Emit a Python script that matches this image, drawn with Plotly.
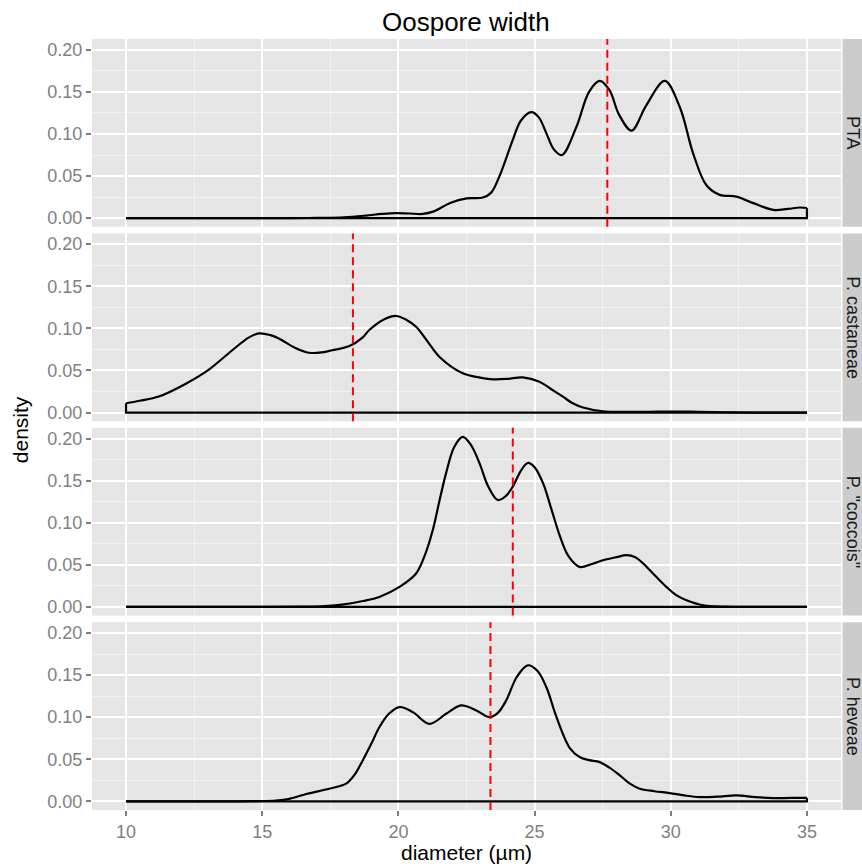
import plotly.graph_objects as go

# ---------------- data ----------------
species = ["PTA", "P. castaneae", "P. \"coccois\"", "P. heveae"]

pta_x = [10, 14, 16, 17, 18, 18.8, 19.4, 19.9, 20.4, 20.9, 21.3, 21.9, 22.5, 23.1, 23.4, 23.7,
         24.2, 24.5, 24.88, 25.15, 25.43, 25.7, 26.0, 26.53, 27.0, 27.39, 27.75, 28.1, 28.56,
         29.1, 29.78, 30.33, 30.82, 31.31, 31.8, 32.41, 33.03, 33.76, 34.3, 34.74, 35]
pta_d = [0, 0, 0, 0.0003, 0.001, 0.003, 0.005, 0.006, 0.0055, 0.005, 0.008, 0.018, 0.0235,
         0.0245, 0.03, 0.049, 0.093, 0.116, 0.126, 0.120, 0.101, 0.082, 0.075, 0.108, 0.150,
         0.163, 0.152, 0.123, 0.104, 0.134, 0.163, 0.132, 0.077, 0.039, 0.0276, 0.0256,
         0.0178, 0.0098, 0.011, 0.0126, 0.012]

cast_x = [10, 10.5, 11.2, 12.18, 13.04, 13.9, 14.5, 14.88, 15.3, 15.61, 16.2, 16.72, 17.2,
          17.57, 18.2, 18.68, 18.93, 19.5, 19.92, 20.3, 20.65, 21.1, 21.51, 22.36, 22.9,
          23.47, 24.0, 24.57, 25.18, 25.6, 26.04, 26.4, 26.78, 27.51, 28.5, 29.5, 30.2, 31,
          32, 33, 35]
cast_d = [0.011, 0.014, 0.019, 0.034, 0.051, 0.074, 0.089, 0.094, 0.092, 0.088, 0.077,
          0.071, 0.0715, 0.074, 0.079, 0.089, 0.098, 0.111, 0.1147, 0.110, 0.102, 0.083,
          0.066, 0.0466, 0.042, 0.0395, 0.040, 0.0418, 0.0366, 0.028, 0.0188, 0.011, 0.006,
          0.0015, 0.0008, 0.001, 0.0012, 0.0008, 0.0003, 0, 0]

cocc_x = [10, 15, 16.5, 17.3, 18.0, 18.7, 19.3, 20.04, 20.65, 21.0, 21.26, 21.5, 21.75,
          22.05, 22.36, 22.65, 22.98, 23.3, 23.65, 23.95, 24.2, 24.5, 24.75, 25.0, 25.31,
          25.6, 25.92, 26.25, 26.65, 27.1, 27.51, 28.0, 28.37, 28.7, 28.99, 29.4, 29.84,
          30.2, 30.58, 31.19, 32, 33, 35]
cocc_d = [0, 0, 0.0003, 0.001, 0.003, 0.007, 0.0119, 0.0238, 0.0397, 0.064, 0.091, 0.125,
          0.159, 0.190, 0.202, 0.193, 0.1705, 0.143, 0.127, 0.132, 0.143, 0.162, 0.171,
          0.166, 0.147, 0.118, 0.085, 0.060, 0.0476, 0.051, 0.0555, 0.059, 0.0615, 0.059,
          0.0516, 0.038, 0.0238, 0.014, 0.008, 0.002, 0.0003, 0, 0]

hev_x = [10, 14, 14.8, 15.5, 16.0, 16.65, 17.46, 18.08, 18.4, 18.69, 19.0, 19.3, 19.65,
         20.04, 20.53, 21.14, 21.75, 22.3, 22.86, 23.35, 23.65, 23.96, 24.35, 24.75, 25.1,
         25.43, 25.75, 26.04, 26.3, 26.65, 27.0, 27.39, 27.75, 28.13, 28.5, 28.86, 29.4,
         29.96, 30.5, 31.07, 31.7, 32.41, 33.1, 33.76, 34.4, 35]
hev_d = [0, 0, 0.0003, 0.001, 0.003, 0.009, 0.015, 0.021, 0.032, 0.0486, 0.068, 0.088,
         0.104, 0.112, 0.106, 0.092, 0.104, 0.114, 0.108, 0.100, 0.105, 0.120, 0.148,
         0.1616, 0.155, 0.1358, 0.105, 0.080, 0.063, 0.0526, 0.049, 0.0466, 0.040, 0.0308,
         0.021, 0.015, 0.012, 0.0098, 0.007, 0.005, 0.0055, 0.007, 0.005, 0.0038, 0.004,
         0.004]

means = [27.67, 18.33, 24.2, 23.38]

x_ticks = [10, 15, 20, 25, 30, 35]
y_ticks = [0.00, 0.05, 0.10, 0.15, 0.20]

curves = [(pta_x, pta_d), (cast_x, cast_d), (cocc_x, cocc_d), (hev_x, hev_d)]

# ---------------- layout geometry ----------------
W, H = 862, 867
ML, MR, MT = 92, 21, 39
PANEL_H = 187.7
STRIDE = 194.3
PLOT_H = STRIDE * 3 + PANEL_H
MB = H - MT - PLOT_H

GREY_TXT = "#7F7F7F"
FONT = "Liberation Sans"


def py(px):
    """pixel (from top) -> paper y"""
    return 1 - (px - MT) / PLOT_H


def px_x(px):
    return (px - ML) / (W - ML - MR)


def clamp(v):
    return min(1.0, max(0.0, v))


fig = go.Figure()
shapes = []
annotations = []
layout_axes = {}

for i, (name, (xs, ds)) in enumerate(zip(species, curves)):
    s = "" if i == 0 else str(i + 1)
    top = MT + STRIDE * i
    bot = top + PANEL_H
    dom = [clamp(py(bot)), clamp(py(top))]

    fig.add_trace(go.Scatter(x=xs, y=ds, mode="lines",
                             line=dict(color="black", width=2.2, shape="spline", smoothing=1.0),
                             xaxis="x" + s, yaxis="y" + s, showlegend=False, hoverinfo="skip"))
    fig.add_trace(go.Scatter(x=[xs[-1], xs[-1], xs[0], xs[0]], y=[ds[-1], 0, 0, ds[0]],
                             mode="lines", line=dict(color="black", width=2.2),
                             xaxis="x" + s, yaxis="y" + s, showlegend=False, hoverinfo="skip"))

    shapes.append(dict(type="line", xref="x" + s, yref="y" + s + " domain",
                       x0=means[i], x1=means[i], y0=0, y1=1,
                       line=dict(color="#FF0000", width=2, dash="8px,5px")))

    # strip
    shapes.append(dict(type="rect", xref="paper", yref="paper",
                       x0=px_x(842.5), x1=px_x(880), y0=dom[0], y1=dom[1],
                       fillcolor="#CCCCCC", line=dict(width=0), layer="below"))
    annotations.append(dict(text=name, xref="paper", yref="paper",
                            x=px_x(853), y=(dom[0] + dom[1]) / 2, showarrow=False,
                            textangle=90, xanchor="center", yanchor="middle",
                            font=dict(family=FONT, size=18, color="#1A1A1A")))

    last = i == len(species) - 1
    ax = dict(
        domain=[0, 1], anchor="y" + s, range=[8.75, 36.25],
        tickmode="array", tickvals=x_ticks, ticktext=[str(v) for v in x_ticks],
        showticklabels=last, ticks="outside" if last else "", ticklen=5, tickwidth=1.5,
        tickcolor=GREY_TXT, tickfont=dict(family=FONT, size=18, color=GREY_TXT),
        showgrid=True, gridcolor="white", gridwidth=1.8, zeroline=False, showline=False,
        minor=dict(tickvals=[12.5, 17.5, 22.5, 27.5, 32.5], showgrid=True,
                   gridcolor="#F2F2F2", gridwidth=0.9, ticks=""),
    )
    if i > 0:
        ax["matches"] = "x"
    layout_axes["xaxis" + s] = ax
    layout_axes["yaxis" + s] = dict(
        domain=dom, anchor="x" + s, range=[-0.0103, 0.2128],
        tickmode="array", tickvals=y_ticks, ticktext=["%.2f" % v for v in y_ticks],
        ticks="outside", ticklen=5, tickwidth=1.5, tickcolor=GREY_TXT,
        tickfont=dict(family=FONT, size=18, color=GREY_TXT),
        showgrid=True, gridcolor="white", gridwidth=1.8, zeroline=False, showline=False,
        minor=dict(tickvals=[0.025, 0.075, 0.125, 0.175], showgrid=True,
                   gridcolor="#F2F2F2", gridwidth=0.9, ticks=""),
    )

# titles
annotations.append(dict(text="Oospore width", xref="paper", yref="paper",
                        x=px_x(466), y=py(22), showarrow=False, xanchor="center",
                        yanchor="middle", font=dict(family=FONT, size=26, color="black")))
annotations.append(dict(text="diameter (µm)", xref="paper", yref="paper",
                        x=px_x(466), y=py(852), showarrow=False, xanchor="center",
                        yanchor="middle", font=dict(family=FONT, size=21, color="black")))
annotations.append(dict(text="density", xref="paper", yref="paper",
                        x=px_x(20), y=py(430), showarrow=False, xanchor="center",
                        yanchor="middle", textangle=-90,
                        font=dict(family=FONT, size=21, color="black")))

fig.update_layout(
    width=W, height=H,
    margin=dict(l=ML, r=MR, t=MT, b=MB),
    paper_bgcolor="white", plot_bgcolor="#E5E5E5",
    shapes=shapes, annotations=annotations, showlegend=False,
    font=dict(family=FONT),
    **layout_axes,
)

fig.write_html("out.html")
